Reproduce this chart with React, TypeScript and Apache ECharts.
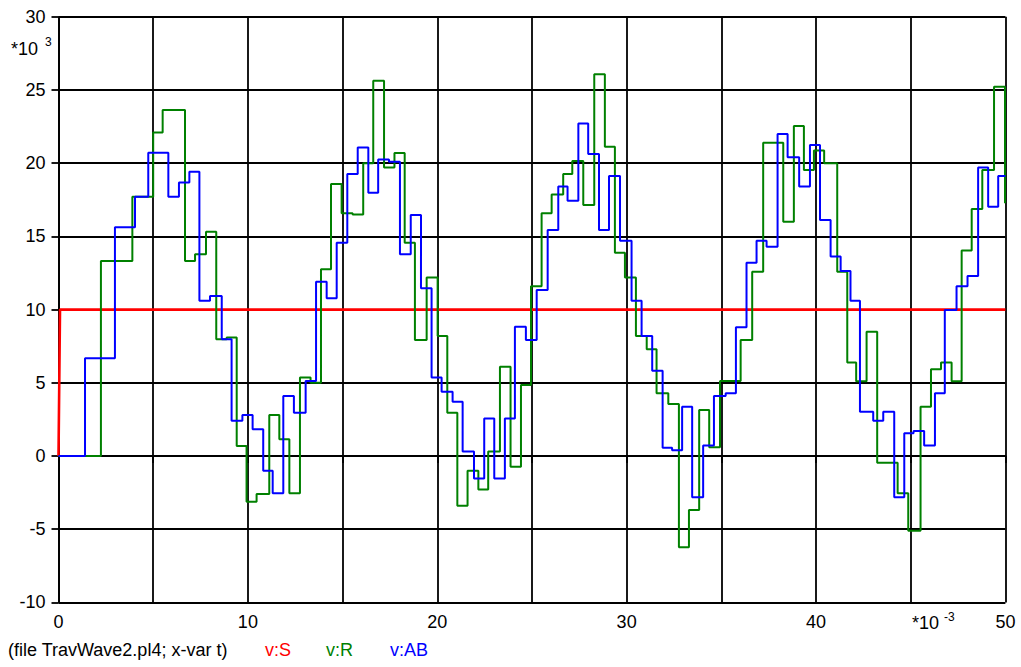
import React, { useEffect, useRef } from 'react';
import * as echarts from 'echarts';

// time in ms (*10^-3 s), voltage in kV (*10^3 V)
const sTimes = [0, 0.08, 50];
const sValues = [0, 10, 10];

const rTimes = [
  0, 2.24, 3.9, 5.0, 5.5, 6.68, 7.21, 7.79, 8.33, 8.88, 9.41, 9.93, 10.46, 11.13, 11.66, 12.19,
  12.75, 13.31, 13.86, 14.39, 14.95, 15.53, 16.09, 16.62, 17.19, 17.74, 18.28, 18.82, 19.44,
  20.02, 20.53, 21.06, 21.6, 22.17, 22.69, 23.31, 23.87, 24.42, 24.95, 25.51, 26.04, 26.65,
  27.13, 27.71, 28.29, 28.85, 29.38, 29.91, 30.49, 31.06, 31.58, 32.2, 32.76, 33.29, 33.83,
  34.36, 34.93, 36.02, 36.63, 37.21, 38.27, 38.83, 39.36, 39.89, 40.43, 41.12, 41.65, 42.12,
  42.67, 43.23, 44.31, 44.87, 45.52, 46.07, 46.6, 47.16, 47.69, 48.22, 48.78, 49.4, 49.98, 50,
];
const rValues = [
  0, 13.32, 17.71, 22.1, 23.63, 13.32, 13.78, 15.32, 7.97, 8.1, 0.68, -3.12, -2.6, 2.8, 1.14, -2.55,
  5.37, 5.0, 12.75, 18.58, 16.58, 16.5, 20.0, 25.64, 19.7, 20.7, 14.57, 7.92, 12.2,
  8.2, 2.96, -3.39, -1.0, -2.28, 0.3, 6.1, -0.73, 4.85, 11.6, 16.58, 17.87, 19.26,
  20.15, 17.14, 26.07, 21.13, 13.89, 12.2, 8.2, 7.29, 4.28, 3.55, -6.24, -3.69, 3.14,
  0.59, 5.12, 7.92, 12.59, 21.4, 16.0, 22.54, 19.54, 20.86, 20.0, 12.59, 6.38, 5.1,
  8.49, -0.46, -2.55, -5.1, 3.37, 5.92, 6.38, 5.1, 14.03, 16.87, 19.54, 25.23, 17.26, 17.26,
];

const abTimes = [
  0, 1.4, 2.98, 4.04, 4.74, 5.8, 6.36, 6.91, 7.44, 8.0, 8.62, 9.14, 9.71, 10.25, 10.81, 11.31,
  11.87, 12.43, 13.05, 13.6, 14.16, 14.69, 15.25, 15.8, 16.36, 16.88, 17.45, 18.03, 18.6, 19.14,
  19.7, 20.23, 20.81, 21.34, 21.94, 22.48, 23.01, 23.57, 24.1, 24.68, 25.25, 25.83, 26.39,
  26.88, 27.45, 27.97, 28.54, 29.07, 29.65, 30.26, 30.79, 31.35, 31.9, 32.4, 32.93, 33.46,
  34.04, 34.61, 35.23, 35.77, 36.33, 36.86, 37.39, 37.97, 38.5, 39.11, 39.68, 40.21, 40.77,
  41.3, 41.82, 42.32, 43.02, 43.55, 44.13, 44.66, 45.15, 45.71, 46.28, 46.8, 47.42, 48.0,
  48.56, 49.09, 49.62, 50,
];
const abValues = [
  0, 6.67, 15.62, 17.71, 20.72, 17.71, 18.69, 19.42, 10.61, 10.93, 7.97, 2.41, 2.8, 1.82, -1.0, -2.55,
  4.1, 2.96, 5.12, 11.91, 10.77, 14.57, 19.26, 21.08, 17.99, 20.26, 20.1, 13.78, 16.46, 11.45,
  5.37, 4.39, 3.71, 0.3, -1.53, 2.57, -1.53, 2.57, 8.83, 7.92, 11.34, 15.44, 18.4,
  17.44, 22.72, 20.63, 15.44, 19.13, 14.71, 10.61, 8.2, 5.83, 0.57, 0.4, 3.37, -2.82,
  0.71, 4.1, 4.28, 8.79, 13.2, 14.71, 14.3, 21.99, 20.4, 18.4, 21.24, 16.12, 13.62,
  12.64, 10.61, 3.03, 2.41, 3.03, -2.82, 1.55, 1.7, 0.71, 4.28, 9.97, 11.6, 12.3,
  19.7, 17.03, 19.13, 19.13,
];

const xMin = 0;
const xMax = 50;
const xStep = 5;
const yMin = -10;
const yMax = 30;
const yStep = 5;

const caption = '(file TravWave2.pl4; x-var t)';
const legendNames = ['v:S', 'v:R', 'v:AB'];
const colors = ['#ff0000', '#008000', '#0000ff'];

const FONT = '"Liberation Sans", Arial, sans-serif';

function pairs(t: number[], v: number[]) {
  return t.map((x, i) => [x, v[i]]);
}

export default function App() {
  const ref = useRef<HTMLDivElement>(null);
  useEffect(() => {
    if (!ref.current) return;
    const chart = echarts.init(ref.current, undefined, { renderer: 'svg' });
    const axisCommon = {
      type: 'value' as const,
      axisLine: { show: true, lineStyle: { color: '#000', width: 1.8 } },
      axisTick: { show: true, length: 7, lineStyle: { color: '#000', width: 1.8 } },
      splitLine: { show: true, lineStyle: { color: '#000', width: 1.8 } },
    };
    chart.setOption({
      animation: false,
      backgroundColor: '#fff',
      grid: { left: 58.5, right: 15.6, top: 16.8, bottom: 64.6, containLabel: false },
      xAxis: {
        ...axisCommon,
        min: xMin,
        max: xMax,
        interval: xStep,
        axisLabel: {
          color: '#000',
          fontSize: 18,
          fontFamily: FONT,
          margin: 11,
          formatter: (v: number) => (v % 10 === 0 ? String(v) : ''),
        },
      },
      yAxis: {
        ...axisCommon,
        min: yMin,
        max: yMax,
        interval: yStep,
        axisLabel: { color: '#000', fontSize: 18, fontFamily: FONT, margin: 13 },
      },
      series: [
        {
          name: legendNames[0],
          type: 'line',
          data: pairs(sTimes, sValues),
          showSymbol: false,
          lineStyle: { color: colors[0], width: 2.6 },
          itemStyle: { color: colors[0] },
          z: 2,
        },
        {
          name: legendNames[1],
          type: 'line',
          step: 'end',
          data: pairs(rTimes, rValues),
          showSymbol: false,
          lineStyle: { color: colors[1], width: 2 },
          itemStyle: { color: colors[1] },
          z: 3,
        },
        {
          name: legendNames[2],
          type: 'line',
          step: 'end',
          data: pairs(abTimes, abValues),
          showSymbol: false,
          lineStyle: { color: colors[2], width: 2 },
          itemStyle: { color: colors[2] },
          z: 4,
        },
      ],
      graphic: [
        { type: 'text', left: 11, top: 40, style: { text: '*10', fontSize: 18, fontFamily: FONT, fill: '#000' } },
        { type: 'text', left: 45, top: 36, style: { text: '3', fontSize: 12, fontFamily: FONT, fill: '#000' } },
        { type: 'text', left: 912, top: 614, style: { text: '*10', fontSize: 18, fontFamily: FONT, fill: '#000' } },
        { type: 'text', left: 944, top: 611, style: { text: '-3', fontSize: 12, fontFamily: FONT, fill: '#000' } },
        { type: 'text', left: 8, top: 641, style: { text: caption, fontSize: 18, fontFamily: FONT, fill: '#000' } },
        { type: 'text', left: 265, top: 641, style: { text: legendNames[0], fontSize: 18, fontFamily: FONT, fill: colors[0] } },
        { type: 'text', left: 326, top: 641, style: { text: legendNames[1], fontSize: 18, fontFamily: FONT, fill: colors[1] } },
        { type: 'text', left: 390, top: 641, style: { text: legendNames[2], fontSize: 18, fontFamily: FONT, fill: colors[2] } },
      ],
    });
    return () => chart.dispose();
  }, []);
  return (
    <div
      ref={ref}
      style={{ position: 'fixed', left: 0, top: 0, width: 1021, height: 667, background: '#fff' }}
    />
  );
}
